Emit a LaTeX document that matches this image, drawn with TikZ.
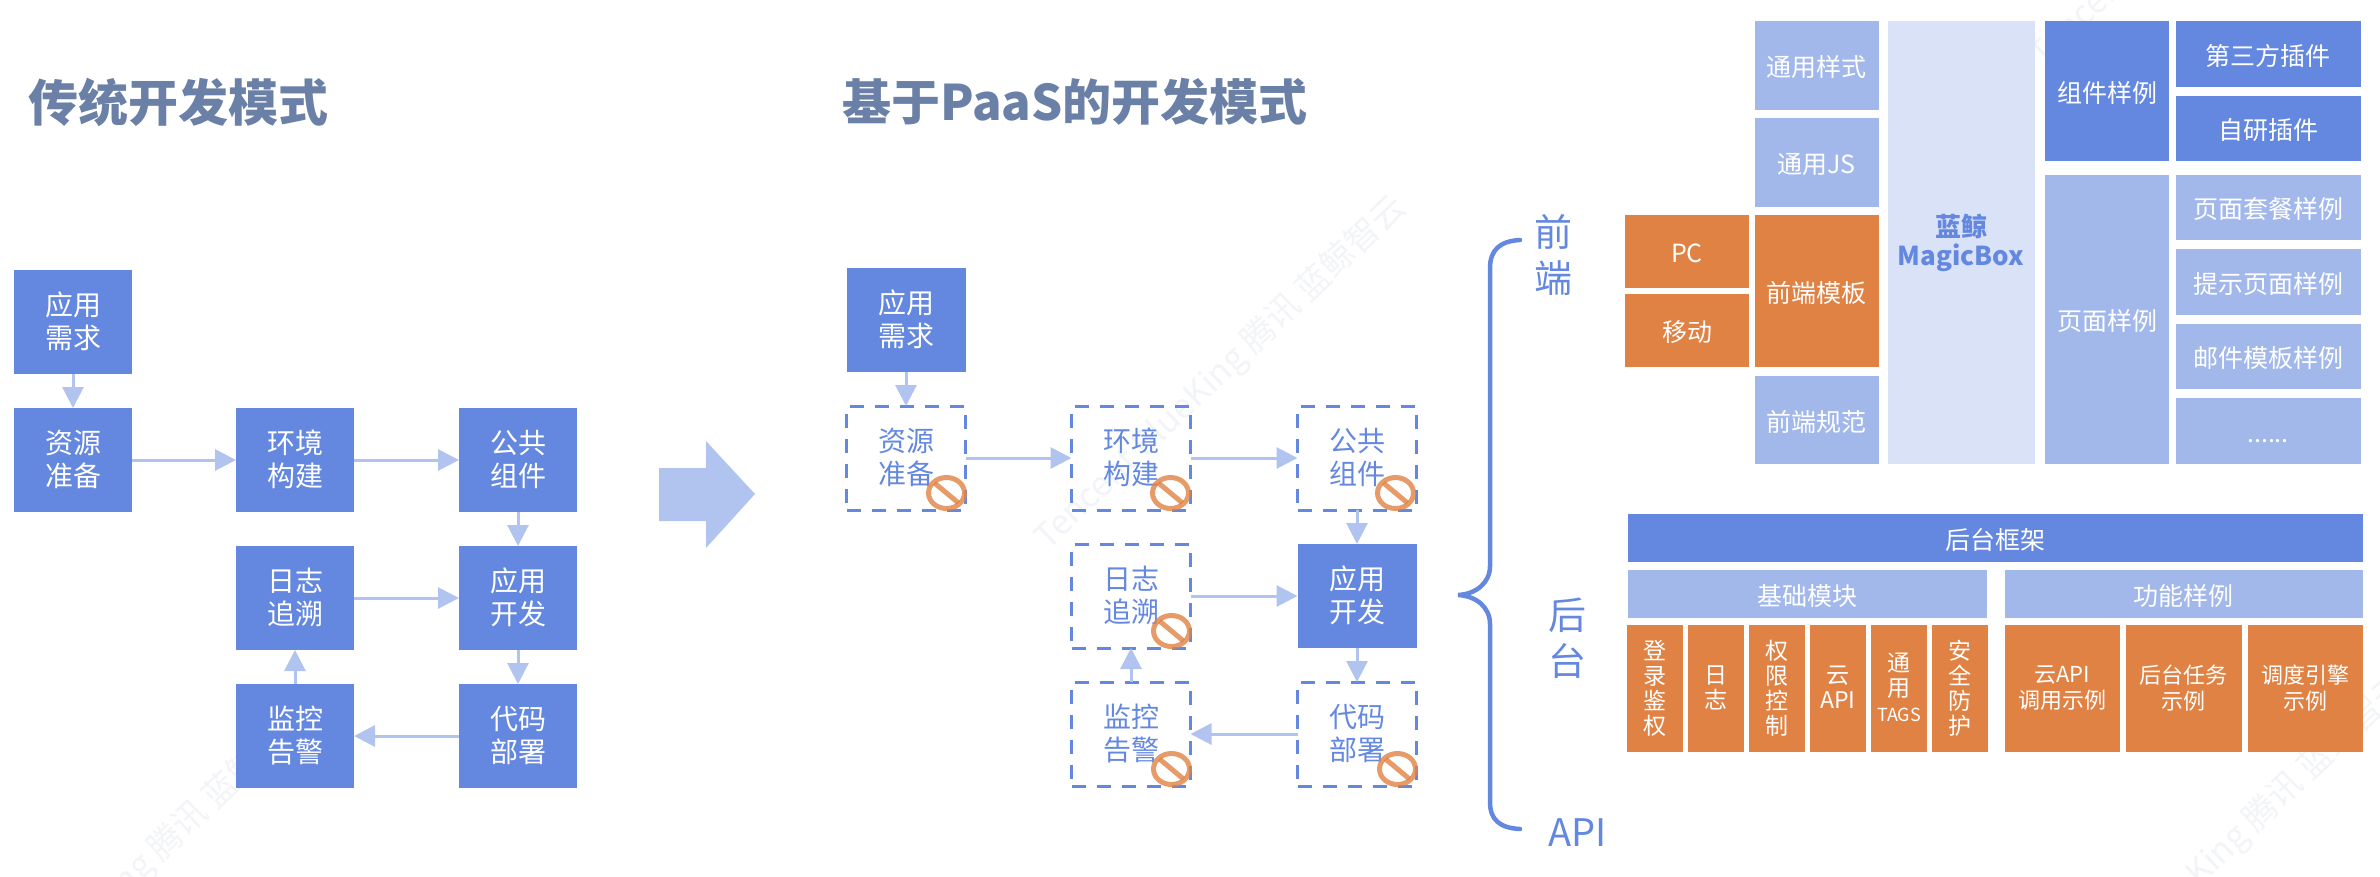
\documentclass[tikz,border=0pt]{standalone}
\usepackage{fontspec}
\setmainfont{Noto Sans CJK SC}
\usetikzlibrary{positioning,calc,arrows.meta}
\definecolor{bkdark}{HTML}{6488E0}
\definecolor{bklight}{HTML}{A2B8EB}
\definecolor{bkpale}{HTML}{D9E2F6}
\definecolor{bkorange}{HTML}{E08244}
\definecolor{bkarrow}{HTML}{B1C4F0}
\definecolor{bktitle}{HTML}{6B80A6}
\definecolor{bkmark}{HTML}{F2F4F7}
\tikzset{
  drop/.style={execute at begin node={\rule[-3pt]{0pt}{#1}}},
  headline/.style={anchor=west,inner sep=0pt,text=bktitle,font=\fontsize{50}{56}\selectfont\bfseries},
  solidbox/.style={drop=31pt,fill=bkdark,text=white,minimum width=118pt,minimum height=104pt,align=center,inner sep=0pt,outer sep=0pt,font=\fontsize{28}{33}\selectfont},
  dashbox/.style={drop=31pt,draw=bkdark,line width=3pt,dash pattern=on 14pt off 11pt,text=bkdark,minimum width=119pt,minimum height=104pt,align=center,inner sep=0pt,outer sep=0pt,font=\fontsize{28}{33}\selectfont},
  flow/.style={color=bkarrow,line width=3pt,-{Triangle[length=21pt,width=21pt]}},
  block/.style={drop=28pt,fill=#1,text=white,align=center,inner sep=0pt,outer sep=0pt,font=\fontsize{25}{30}\selectfont},
  item/.style={block=bkorange,minimum width=55.5pt,minimum height=127pt,font=\fontsize{23}{25}\selectfont},
  wide/.style={block=bkorange,minimum width=115pt,minimum height=127pt,font=\fontsize{22}{26}\selectfont},
  side/.style={text=bkdark,align=center,inner sep=0pt,font=\fontsize{38}{46}\selectfont},
  wmark/.style={rotate=43.5,text=bkmark,font=\fontsize{34}{40}\selectfont},
  nogo/.pic={
    \draw[bkorange,opacity=.8,line width=5pt] (0,0) ellipse (18pt and 15.5pt);
    \draw[bkorange,opacity=.8,line width=5pt] (-12,-10) -- (12,10);
  }
}
\newcommand{\marktext}{Tencent BlueKing 腾讯 蓝鲸智云}
\begin{document}
\begin{tikzpicture}[x=1pt,y=-1pt]
    \useasboundingbox (0,0) rectangle (2380,876);
    % watermark
    \begin{scope}
    \clip (0,0) rectangle (2380,876);
    \node[wmark] (wmA) at (1221,373) {\marktext};
    \node[wmark] (wmB) at (128,880) {\marktext};
    \node[wmark] (wmC) at (2223,851) {\marktext};
    \node[wmark] (wmD) at (2216,-110) {\marktext};
    \end{scope}
    % traditional flow
    \node[headline] (oldtitle) at (28,102) {传统开发模式};
    \node[solidbox] (oldneed) at (73,322) {应用\\需求};
    \node[solidbox,below=34pt of oldneed] (oldres) {资源\\准备};
    \node[solidbox,right=104pt of oldres] (oldenv) {环境\\构建};
    \node[solidbox,right=105pt of oldenv] (oldlib) {公共\\组件};
    \node[solidbox,below=34pt of oldlib] (olddev) {应用\\开发};
    \node[solidbox,below=34pt of olddev] (olddep) {代码\\部署};
    \node[solidbox,below=34pt of oldenv] (oldlog) {日志\\追溯};
    \node[solidbox,below=34pt of oldlog] (oldmon) {监控\\告警};
    \draw[flow] (oldneed) edge (oldres);
    \draw[flow] (oldres) edge (oldenv);
    \draw[flow] (oldenv) edge (oldlib);
    \draw[flow] (oldlib) edge (olddev);
    \draw[flow] (oldlog) edge (olddev);
    \draw[flow] (olddev) edge (olddep);
    \draw[flow] (olddep) edge (oldmon);
    \draw[flow] (oldmon) edge (oldlog);
    % big arrow
    \fill[bkarrow] (659,468) -- (706,468) -- (706,441) -- (755,494) -- (706,548) -- (706,521) -- (659,521) -- cycle;
    % paas flow
    \node[headline,font=\fontsize{49}{56}\selectfont\bfseries] (newtitle) at (842,102) {基于PaaS的开发模式};
    \node[solidbox,minimum width=119pt] (newneed) at (906,320) {应用\\需求};
    \node[dashbox,below=34pt of newneed] (newres) {资源\\准备};
    \node[dashbox,right=106pt of newres] (newenv) {环境\\构建};
    \node[dashbox,right=107pt of newenv] (newlib) {公共\\组件};
    \node[solidbox,minimum width=119pt,below=34pt of newlib] (newdev) {应用\\开发};
    \node[dashbox,below=34pt of newdev] (newdep) {代码\\部署};
    \node[dashbox,below=34pt of newenv] (newlog) {日志\\追溯};
    \node[dashbox,below=34pt of newlog] (newmon) {监控\\告警};
    \draw[flow] (newneed) edge (newres);
    \draw[flow] (newres) edge (newenv);
    \draw[flow] (newenv) edge (newlib);
    \draw[flow] (newlib) edge (newdev);
    \draw[flow] (newlog) edge (newdev);
    \draw[flow] (newdev) edge (newdep);
    \draw[flow] (newdep) edge (newmon);
    \draw[flow] (newmon) edge (newlog);
    \pic at ([shift={(-19,-17)}]newres.south east) {nogo};
    \pic at ([shift={(-20,-17)}]newenv.south east) {nogo};
    \pic at ([shift={(-21,-17)}]newlib.south east) {nogo};
    \pic at ([shift={(-19,-17)}]newlog.south east) {nogo};
    \pic at ([shift={(-19,-17)}]newmon.south east) {nogo};
    \pic at ([shift={(-19,-17)}]newdep.south east) {nogo};
    % brace
    \draw[bkdark,line width=4.5pt,line cap=round] (1520,240) .. controls (1500,241) and (1490,250) .. (1490,268) -- (1490,566) .. controls (1490,583) and (1476,594) .. (1458,595) .. controls (1476,596) and (1490,607) .. (1490,624) -- (1490,802) .. controls (1490,820) and (1500,828) .. (1520,829);
    \node[side] (front) at (1553,255) {前\\端};
    \node[side] (back) at (1567,638) {后\\台};
    \node[side,anchor=west] (api) at (1548,833) {API};
    % frontend
    \node[block=bklight,minimum width=124pt,minimum height=89pt] (style) at (1816.5,65.5) {通用样式};
    \node[block=bklight,minimum width=124pt,minimum height=89pt,below=8pt of style] (js) {通用JS};
    \node[block=bkorange,minimum width=124pt,minimum height=152pt,below=8pt of js] (tpl) {前端模板};
    \node[block=bklight,minimum width=124pt,minimum height=88pt,below=9pt of tpl] (norm) {前端规范};
    \node[block=bkorange,minimum width=124pt,minimum height=73pt,anchor=north east] (pc) at ([xshift=-5.5pt]tpl.north west) {PC};
    \node[block=bkorange,minimum width=124pt,minimum height=73pt,anchor=south east] (mobile) at ([xshift=-5.5pt]tpl.south west) {移动};
    \node[block=bkpale,text=bkdark,font=\fontsize{26}{29}\selectfont\bfseries,minimum width=147pt,minimum height=443pt] (magic) at (1961,242.5) {蓝鲸\\MagicBox};
    \node[block=bkdark,minimum width=124pt,minimum height=140pt] (widget) at (2107,91) {组件样例};
    \node[block=bkdark,minimum width=185pt,minimum height=66pt] (third) at (2268,54) {第三方插件};
    \node[block=bkdark,minimum width=185pt,minimum height=65pt,below=9pt of third] (own) {自研插件};
    \node[block=bklight,minimum width=124pt,minimum height=289pt] (page) at (2107,319.5) {页面样例};
    \node[block=bklight,minimum width=185pt,minimum height=65pt] (pack) at (2268,207.5) {页面套餐样例};
    \node[block=bklight,minimum width=185pt,minimum height=66pt,below=9pt of pack] (hint) {提示页面样例};
    \node[block=bklight,minimum width=185pt,minimum height=65pt,below=9pt of hint] (mail) {邮件模板样例};
    \node[block=bklight,minimum width=185pt,minimum height=66pt,below=9pt of mail] (more) {......};
    % backend
    \node[block=bkdark,minimum width=735pt,minimum height=48pt] (frame) at (1995,538) {后台框架};
    \node[block=bklight,minimum width=359pt,minimum height=48pt] (base) at (1807,594) {基础模块};
    \node[block=bklight,minimum width=358pt,minimum height=48pt] (demo) at (2183.5,594) {功能样例};
    \node[item] (login) at (1655,688.5) {登\\录\\鉴\\权};
    \node[item,right=5.5pt of login] (logs) {日\\志};
    \node[item,right=5.5pt of logs] (perm) {权\\限\\控\\制};
    \node[item,right=5.5pt of perm] (cloud) {云\\API};
    \node[item,right=5.5pt of cloud] (tags) {通\\用\\{\fontsize{18}{25}\selectfont TAGS}};
    \node[item,right=5.5pt of tags] (safe) {安\\全\\防\\护};
    \node[wide] (cloudcase) at (2062,688.5) {云API\\调用示例};
    \node[wide,minimum width=116pt] (taskcase) at (2183.5,688.5) {后台任务\\示例};
    \node[wide] (enginecase) at (2305,688.5) {调度引擎\\示例};
\end{tikzpicture}
\end{document}
